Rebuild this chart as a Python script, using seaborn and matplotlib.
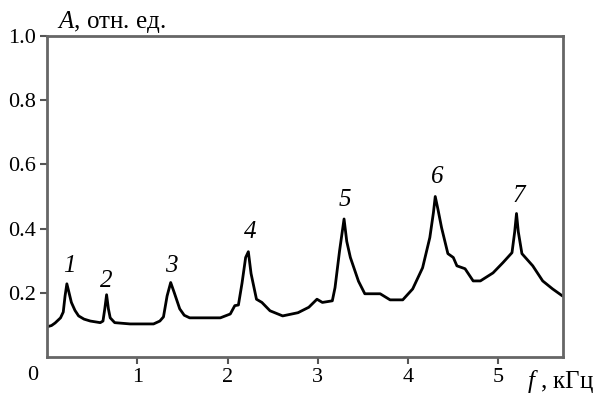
import numpy as np
import pandas as pd
import matplotlib
matplotlib.use('Agg')
import matplotlib.pyplot as plt
import seaborn as sns

# spectrum
freq = [0.00, 0.05, 0.09, 0.15, 0.18, 0.20, 0.22, 0.24, 0.27, 0.31, 0.35, 0.41, 0.48, 0.59, 0.62,
        0.64, 0.66, 0.68, 0.70, 0.75, 0.92, 1.18, 1.25, 1.29, 1.33, 1.37, 1.41, 1.47, 1.52, 1.58,
        1.92, 2.03, 2.08, 2.12, 2.16, 2.20, 2.23, 2.26, 2.32, 2.38, 2.47, 2.61, 2.78, 2.90, 2.99,
        3.05, 3.16, 3.19, 3.24, 3.29, 3.32, 3.36, 3.45, 3.52, 3.69, 3.80, 3.94, 4.05, 4.16, 4.24,
        4.28, 4.30, 4.33, 4.37, 4.44, 4.50, 4.54, 4.63, 4.72, 4.80, 4.94, 5.05, 5.15, 5.18, 5.20,
        5.22, 5.26, 5.38, 5.49, 5.60, 5.71]
amp = [0.094, 0.098, 0.106, 0.122, 0.140, 0.190, 0.228, 0.205, 0.170, 0.145, 0.128, 0.118, 0.112, 0.107, 0.112,
       0.150, 0.194, 0.150, 0.122, 0.107, 0.103, 0.103, 0.112, 0.125, 0.190, 0.232, 0.200, 0.150, 0.130, 0.122,
       0.122, 0.134, 0.160, 0.162, 0.230, 0.310, 0.328, 0.260, 0.180, 0.170, 0.144, 0.128, 0.138, 0.155, 0.180,
       0.170, 0.175, 0.216, 0.330, 0.430, 0.360, 0.310, 0.236, 0.197, 0.197, 0.178, 0.178, 0.212, 0.278, 0.372,
       0.450, 0.500, 0.460, 0.403, 0.322, 0.310, 0.284, 0.275, 0.237, 0.237, 0.262, 0.294, 0.325, 0.390, 0.447,
       0.390, 0.322, 0.284, 0.237, 0.212, 0.190]

peak_labels = ['1', '2', '3', '4', '5', '6', '7']
peak_x = [0.25, 0.66, 1.38, 2.25, 3.30, 4.32, 5.22]
peak_y = [0.284, 0.237, 0.284, 0.388, 0.49, 0.56, 0.50]

xticks = [1, 2, 3, 4, 5]
yticks = [0.2, 0.4, 0.6, 0.8, 1.0]

sns.set_style('ticks')
plt.rcParams['font.family'] = ['Liberation Serif', 'DejaVu Serif']
plt.rcParams['mathtext.fontset'] = 'custom'
plt.rcParams['mathtext.it'] = 'Liberation Serif:italic'
plt.rcParams['mathtext.rm'] = 'Liberation Serif'
plt.rcParams['text.color'] = 'black'
plt.rcParams['xtick.labelcolor'] = 'black'
plt.rcParams['ytick.labelcolor'] = 'black'

df = pd.DataFrame({'f': freq, 'A': amp})

fig = plt.figure(figsize=(6.11, 3.97), dpi=100)
ax = fig.add_axes([47/611, 1-357/397, (563-47)/611, (357-36)/397])
sns.lineplot(data=df, x='f', y='A', color='black', linewidth=2.0, ax=ax)

for lab, px, py in zip(peak_labels, peak_x, peak_y):
    ax.text(px, py, lab, fontsize=18, style='italic', ha='center', va='center')

ax.set_xlim(0, 5.715)
ax.set_ylim(0, 1.0)
ax.set_xticks(xticks)
ax.set_yticks(yticks)
ax.set_xticklabels([str(t) for t in xticks])
ax.set_yticklabels(['%.1f' % t for t in yticks])
ax.set_xlabel('')
ax.set_ylabel('')
ax.tick_params(labelsize=16, length=5, width=1.5, color='#555555', labelcolor='black',
               direction='out', pad=3)
for s in ax.spines.values():
    s.set_color('#666666')
    s.set_linewidth(2.0)

ax.text(-0.027, -0.057, '0', transform=ax.transAxes, fontsize=16, ha='center', va='center')
ax.text(0.02, 1.003, '$A$, отн. ед.', transform=ax.transAxes, fontsize=18, ha='left', va='bottom')
fig.text(527/611, 1-388/397, '$f$ , кГц', fontsize=18, ha='left', va='baseline')

fig.savefig('out.png', dpi=100)
